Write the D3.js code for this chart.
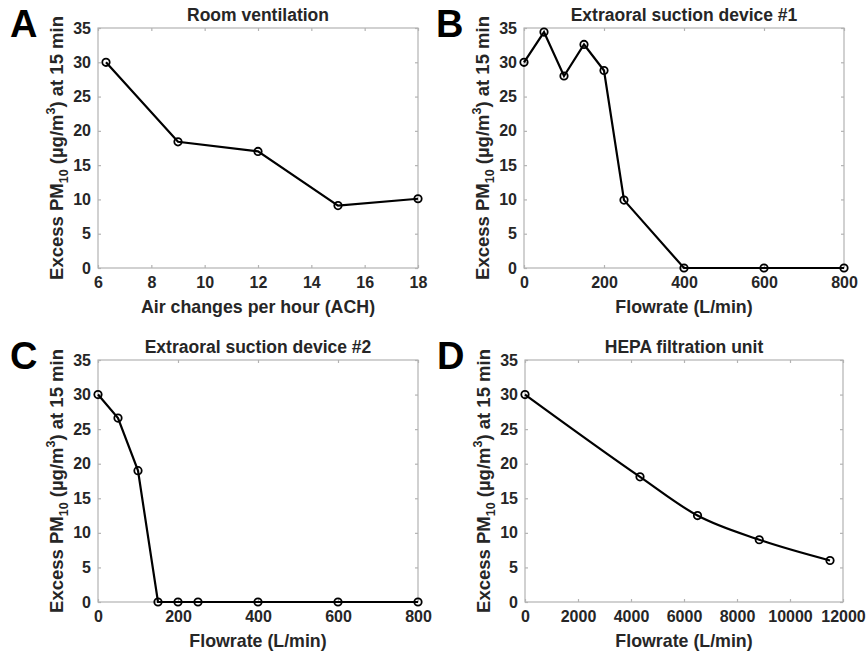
<!DOCTYPE html>
<html><head><meta charset="utf-8">
<script src="https://cdn.jsdelivr.net/npm/d3@7"></script>
<style>body{margin:0;background:#fff}svg{display:block;font-family:"Liberation Sans",Arial,sans-serif}</style>
</head><body>
<svg id="c" width="866" height="652"></svg>
<script>
// Panel A
const achX = [6.3, 9, 12, 15, 18];
const achY = [30, 18.4, 17, 9.1, 10.1];
// Panel B
const dev1X = [0, 50, 100, 150, 200, 250, 400, 600, 800];
const dev1Y = [30, 34.4, 28, 32.6, 28.8, 9.9, 0, 0, 0];
// Panel C
const dev2X = [0, 50, 100, 150, 200, 250, 400, 600, 800];
const dev2Y = [30, 26.6, 19, 0, 0, 0, 0, 0, 0];
// Panel D
const hepaX = [0, 4340, 6510, 8840, 11510];
const hepaY = [30, 18.1, 12.5, 9, 6];

const yTicks = [0, 5, 10, 15, 20, 25, 30, 35];
const achTicks = [6, 8, 10, 12, 14, 16, 18];
const flowTicks = [0, 200, 400, 600, 800];
const hepaTicks = [0, 2000, 4000, 6000, 8000, 10000, 12000];

const panels = [
  {letter:"A", title:"Room ventilation", xlab:"Air changes per hour (ACH)", xs:achX, ys:achY, xdom:[6,18], xt:achTicks, box:[98,28,418,268], smooth:false},
  {letter:"B", title:"Extraoral suction device #1", xlab:"Flowrate (L/min)", xs:dev1X, ys:dev1Y, xdom:[0,800], xt:flowTicks, box:[524,28,844,268], smooth:false},
  {letter:"C", title:"Extraoral suction device #2", xlab:"Flowrate (L/min)", xs:dev2X, ys:dev2Y, xdom:[0,800], xt:flowTicks, box:[98,360,418,602], smooth:false},
  {letter:"D", title:"HEPA filtration unit", xlab:"Flowrate (L/min)", xs:hepaX, ys:hepaY, xdom:[0,12000], xt:hepaTicks, box:[525,360,843,602], smooth:true}
];

const svg = d3.select("#c");
const txt = "#262626", axc = "#b3b3b3";

panels.forEach(p => {
  const [x0,y0,x1,y1] = p.box;
  const x = d3.scaleLinear().domain(p.xdom).range([x0,x1]);
  const y = d3.scaleLinear().domain([0,35]).range([y1,y0]);
  const g = svg.append("g");

  g.append("rect").attr("x",x0).attr("y",y0).attr("width",x1-x0).attr("height",y1-y0)
    .attr("fill","none").attr("stroke",axc).attr("stroke-width",1.2);

  const xb = g.append("g").attr("transform",`translate(0,${y1})`)
    .call(d3.axisBottom(x).tickValues(p.xt).tickSize(-3).tickPadding(9).tickFormat(d3.format("d")));
  const xt = g.append("g").attr("transform",`translate(0,${y0})`)
    .call(d3.axisTop(x).tickValues(p.xt).tickSize(-3).tickFormat(""));
  const yl = g.append("g").attr("transform",`translate(${x0},0)`)
    .call(d3.axisLeft(y).tickValues(yTicks).tickSize(-3).tickPadding(7));
  const yr = g.append("g").attr("transform",`translate(${x1},0)`)
    .call(d3.axisRight(y).tickValues(yTicks).tickSize(-3).tickFormat(""));
  [xb,xt,yl,yr].forEach(a => {
    a.select(".domain").remove();
    a.selectAll(".tick line").attr("stroke",axc).attr("stroke-width",1.2);
    a.selectAll("text").attr("fill",txt).attr("font-size",16).attr("font-weight","bold")
      .attr("font-family","Liberation Sans, Arial, sans-serif");
  });

  g.append("text").attr("x",(x0+x1)/2).attr("y",y0-7).attr("text-anchor","middle")
    .attr("font-size",17.5).attr("font-weight","bold").attr("fill",txt).text(p.title);
  g.append("text").attr("x",(x0+x1)/2).attr("y",y1+45).attr("text-anchor","middle")
    .attr("font-size",17.8).attr("font-weight","bold").attr("fill",txt).text(p.xlab);
  const yt = g.append("text").attr("transform",`translate(${x0-35},${(y0+y1)/2}) rotate(-90)`)
    .attr("text-anchor","middle").attr("font-size",18.5).attr("font-weight","bold").attr("fill",txt);
  yt.append("tspan").text("Excess PM");
  yt.append("tspan").attr("font-size",12.5).attr("dy",5).text("10");
  yt.append("tspan").attr("dy",-5).text(" (µg/m");
  yt.append("tspan").attr("font-size",12.5).attr("dy",-8).text("3");
  yt.append("tspan").attr("dy",8).text(") at 15 min");

  g.append("text").attr("x",x0-88).attr("y",y0+9).attr("font-size",38).attr("font-weight","bold")
    .attr("fill","#000").text(p.letter);

  const data = p.xs.map((v,i)=>[v,p.ys[i]]);
  const line = d3.line().x(d=>x(d[0])).y(d=>y(d[1]));
  if (p.smooth) line.curve(d3.curveMonotoneX);
  g.append("path").datum(data).attr("d",line).attr("fill","none").attr("stroke","#000").attr("stroke-width",2.2);
  g.selectAll("circle.pt").data(data).enter().append("circle")
    .attr("cx",d=>x(d[0])).attr("cy",d=>y(d[1])).attr("r",3.7)
    .attr("fill","none").attr("stroke","#000").attr("stroke-width",1.8);
});
</script>
</body></html>
